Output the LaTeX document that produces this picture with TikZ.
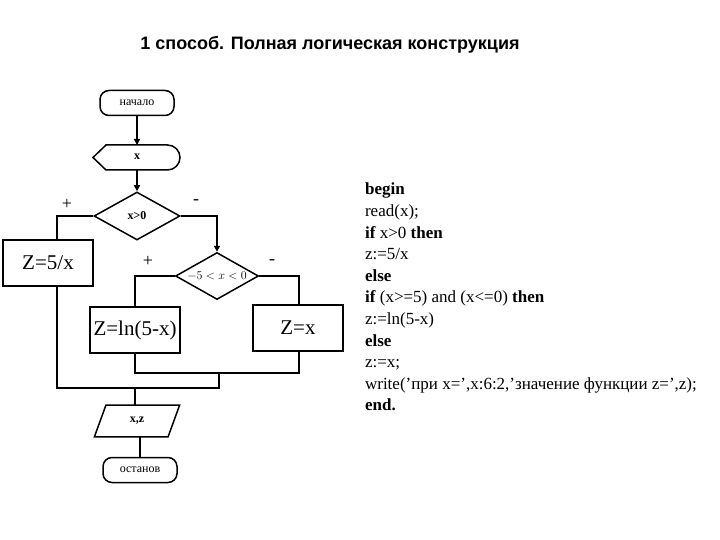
\documentclass[tikz,border=0pt]{standalone}
\usepackage{fontspec}
\setmainfont{Liberation Serif}
\newfontfamily\sans{Liberation Sans}
\usetikzlibrary{shapes.geometric,arrows.meta}
\begin{document}
\begin{tikzpicture}[x=1pt,y=-1pt,line width=1.5pt,
 term/.style={draw,rounded corners=9pt,minimum width=74pt,minimum height=25pt,inner sep=0pt,font=\fontsize{12}{12}\selectfont},
 proc/.style={draw,minimum width=90pt,minimum height=46pt,inner sep=0pt,font=\fontsize{21}{21}\selectfont},
 dec/.style={draw,diamond,aspect=1.8,minimum width=86pt,minimum height=48pt,inner sep=0pt},
 io/.style={draw,trapezium,trapezium left angle=70,trapezium right angle=110,minimum width=86pt,minimum height=32pt,inner sep=0pt,font=\bfseries\fontsize{12}{12}\selectfont},
 arr/.style={-{Triangle[length=6pt,width=6pt]}},
 lbl/.style={font=\fontsize{18}{18}\selectfont}]
\useasboundingbox (0,0) rectangle (720,540);
\node[font=\sans\bfseries\fontsize{18}{18}\selectfont] (title) at (330,45) {1 способ. Полная логическая конструкция};
\node[term] (start) at (137,103) {начало};
\node[font=\bfseries\fontsize{12}{12}\selectfont] (in) at (137,157) {x};
\draw (93,157.5) -- (106,145) -- (167.5,145) arc (-90:90:12.5) -- (106,170) -- cycle;
\coordinate (inT) at (137,145);
\coordinate (inB) at (137,170);
\node[dec,font=\bfseries\fontsize{12}{12}\selectfont] (d1) at (137,216) {x>0};
\node[proc] (z5) at (48,263) {Z=5/x};
\node[dec,minimum width=83pt,minimum height=47pt] (d2) at (217,276) {\fontsize{12}{12}\selectfont$-5<x<0$};
\node[proc] (zln) at (135,330) {Z=ln(5-x)};
\node[proc] (zx) at (298,328) {Z=x};
\node[io] (out) at (137,421) {x,z};
\node[term] (stop) at (140,470) {останов};
\draw[arr] (start) -- (inT);
\draw[arr] (inB) -- (d1.north);
\coordinate (c1) at (57,216);
\draw (d1.west) -- (c1) -- (c1 |- z5.north);
\draw[arr] (d1.east) -- (217,216) -- (d2.north);
\draw (d2.west) -- (135,276) -- (zln.north);
\draw (d2.east) -- (299,276) -- (299,305);
\draw (zln.south) -- (135,373) -- (299,373) -- (299,351);
\draw (219,373) -- (219,388) -- (57,388) -- (57,287);
\draw (135,388) -- (135,405);
\draw (140,437) -- (stop.north -| 140,0);
\node[lbl] (p1) at (67,204) {+};
\node[lbl] (m1) at (196,202) {-};
\node[lbl] (p2) at (148,261) {+};
\node[lbl] (m2) at (272,262) {-};
\node[anchor=north west,align=left,font=\fontsize{17}{21.6}\selectfont] (code) at (361,179) {\textbf{begin}\\
read(x);\\
\textbf{if} x>0 \textbf{then}\\
z:=5/x\\
\textbf{else}\\
\textbf{if} (x>=5) and (x<=0) \textbf{then}\\
z:=ln(5-x)\\
\textbf{else}\\
z:=x;\\
write('при x=',x:6:2,'значение функции z=',z);\\
\textbf{end.}};
\end{tikzpicture}
\end{document}
